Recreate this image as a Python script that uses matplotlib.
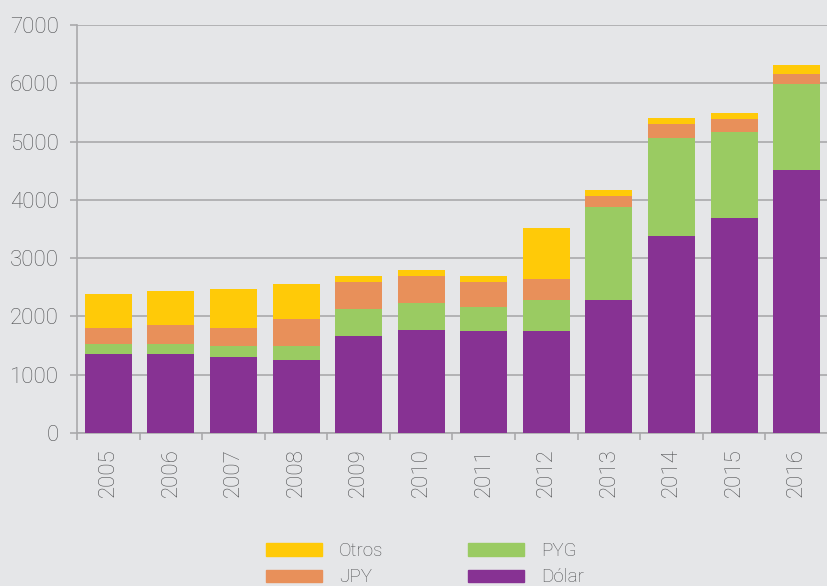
import numpy as np
import matplotlib
matplotlib.use("Agg")
import matplotlib.pyplot as plt
from matplotlib.patches import Patch

plt.rcParams['font.family'] = ['Roboto', 'DejaVu Sans']
plt.rcParams['font.weight'] = 'light'

years = ['2005', '2006', '2007', '2008', '2009', '2010',
         '2011', '2012', '2013', '2014', '2015', '2016']
dolar = [1363, 1363, 1311, 1260, 1672, 1775, 1758, 1758, 2274, 3375, 3684, 4511]
pyg = [172, 172, 189, 240, 464, 447, 412, 516, 1599, 1683, 1477, 1476]
jpy = [275, 326, 310, 448, 447, 466, 413, 361, 189, 241, 224, 172]
otros = [567, 569, 654, 602, 105, 103, 105, 877, 103, 103, 103, 154]

c_dolar = '#873293'
c_pyg = '#9acb62'
c_jpy = '#e8905a'
c_otros = '#ffca08'
bg = '#e5e6e8'
txt = '#505153'
line = '#a9a9ab'

fig = plt.figure(figsize=(8.28, 5.86), dpi=100, facecolor=bg)
ax = fig.add_axes([77 / 828, 1 - 433 / 586, 1 - 77 / 828, (433 - 25) / 586])
ax.set_facecolor(bg)

x = np.arange(len(years))
w = 0.75
b1 = np.array(dolar)
b2 = b1 + np.array(pyg)
b3 = b2 + np.array(jpy)
ax.bar(x, dolar, w, color=c_dolar, zorder=3)
ax.bar(x, pyg, w, bottom=b1, color=c_pyg, zorder=3)
ax.bar(x, jpy, w, bottom=b2, color=c_jpy, zorder=3)
ax.bar(x, otros, w, bottom=b3, color=c_otros, zorder=3)

ax.set_xlim(-0.5, len(years) - 0.5)
ax.set_ylim(0, 7000)
ax.set_yticks(range(0, 7001, 1000))
ax.yaxis.grid(True, color=line, linewidth=1.2, zorder=0)
ax.set_axisbelow(True)

ax.set_xticks(x)
ax.set_xticklabels(years, rotation=90)
ax.set_xticks(np.arange(-0.5, len(years), 1.0), minor=True)
ax.tick_params(axis='x', which='major', length=0, pad=11, labelsize=16, labelcolor=txt)
ax.tick_params(axis='x', which='minor', length=5, width=1.2, color=line)
ax.tick_params(axis='y', length=5, width=1.2, color=line, pad=8, labelsize=16, labelcolor=txt)

for s in ['top', 'right']:
    ax.spines[s].set_visible(False)
for s in ['left', 'bottom']:
    ax.spines[s].set_color(line)
    ax.spines[s].set_linewidth(1.2)

handles = [Patch(color=c_otros), Patch(color=c_jpy), Patch(color=c_pyg), Patch(color=c_dolar)]
labels = ['Otros', 'JPY', 'PYG', 'Dólar']
leg = fig.legend(handles, labels, ncol=2, loc='upper left',
                 bbox_to_anchor=(266 / 828, 1 - 542 / 586), frameon=False,
                 fontsize=13.5, handlelength=3.0, handleheight=0.65,
                 handletextpad=0.9, columnspacing=4.5, labelspacing=0.45,
                 borderpad=0, borderaxespad=0)
for t in leg.get_texts():
    t.set_color(txt)

fig.savefig('out.png', dpi=100, facecolor=bg)
